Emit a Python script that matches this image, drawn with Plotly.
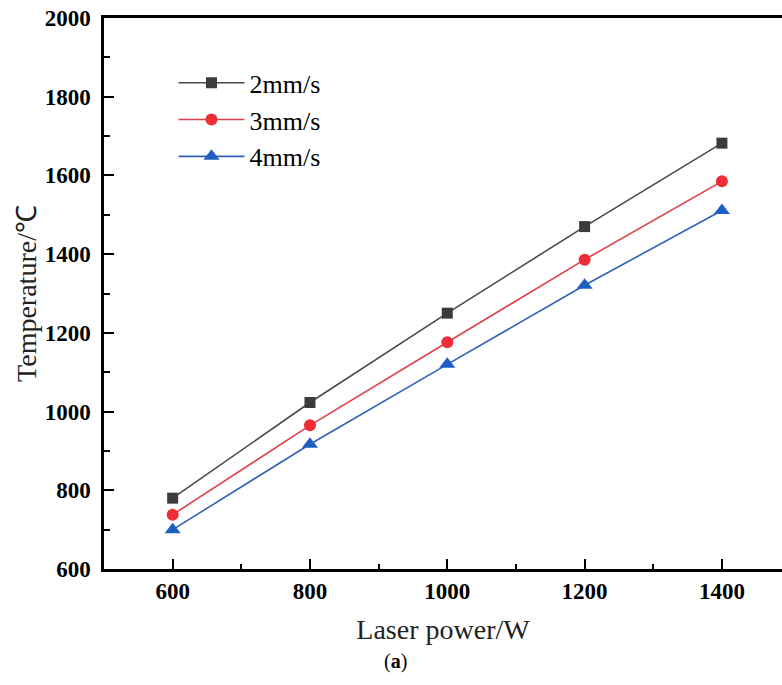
import plotly.graph_objects as go

# Laser power (W) and peak temperature (°C) for three scanning speeds
power = [600, 800, 1000, 1200, 1400]
temp_2mm = [780, 1023, 1250, 1470, 1682]
temp_3mm = [738, 965, 1176, 1386, 1585]
temp_4mm = [700, 917, 1120, 1321, 1511]
series_names = ["2mm/s", "3mm/s", "4mm/s"]
x_ticks = [600, 800, 1000, 1200, 1400]
y_ticks = [600, 800, 1000, 1200, 1400, 1600, 1800, 2000]

serif = "Liberation Serif"

styles = [
    dict(line="#4a4a4a", marker="#3c3c3c", symbol="square", size=11),
    dict(line="#e0404a", marker="#ee2e36", symbol="circle", size=12),
    dict(line="#2e62b8", marker="#1f5fc4", symbol="triangle-up", size=14),
]

fig = go.Figure()
for name, vals, st in zip(series_names, [temp_2mm, temp_3mm, temp_4mm], styles):
    fig.add_trace(go.Scatter(
        x=power, y=vals, name=name, mode="lines+markers",
        line=dict(color=st["line"], width=1.6),
        marker=dict(color=st["marker"], symbol=st["symbol"], size=st["size"]),
    ))

tick_font = dict(family=serif, size=23, color="black")
title_font = dict(family=serif, size=28, color="#222")

fig.update_xaxes(
    showline=True, linecolor="black", linewidth=2.5, mirror=True,
    ticks="inside", tickcolor="black", tickwidth=2, ticklen=10,
    showgrid=False, zeroline=False,
    range=[500, 1487.5],
    tickvals=x_ticks, ticktext=[f"<b>{v}</b>" for v in x_ticks],
    tickfont=tick_font,
    minor=dict(ticks="inside", dtick=100, tick0=500, ticklen=5, tickwidth=2, tickcolor="black"),
    title=dict(text="Laser power/W", font=title_font, standoff=17),
)
fig.update_yaxes(
    showline=True, linecolor="black", linewidth=2.5,
    ticks="inside", tickcolor="black", tickwidth=2, ticklen=10,
    showgrid=False, zeroline=False,
    range=[600, 2000],
    tickvals=y_ticks, ticktext=[f"<b>{v}</b>" for v in y_ticks],
    tickfont=tick_font,
    minor=dict(ticks="inside", dtick=100, tick0=600, ticklen=6, tickwidth=2, tickcolor="black"),
    title=dict(text="Temperature/℃", font=title_font, standoff=0),
    ticklabelstandoff=6,
)

fig.add_annotation(
    text="(<b>a</b>)", xref="paper", yref="paper", x=0.43, y=-0.144,
    xanchor="center", yanchor="top", showarrow=False,
    font=dict(family=serif, size=20, color="black"),
)

fig.update_layout(
    width=782, height=685,
    margin=dict(l=104, r=0, t=18, b=116),
    paper_bgcolor="white", plot_bgcolor="white",
    font=dict(family=serif),
    legend=dict(
        x=0.1025, y=0.925, xanchor="left", yanchor="top",
        bgcolor="rgba(0,0,0,0)", itemwidth=66,
        font=dict(family=serif, size=26, color="black"),
    ),
)

fig.write_html("out.html")
